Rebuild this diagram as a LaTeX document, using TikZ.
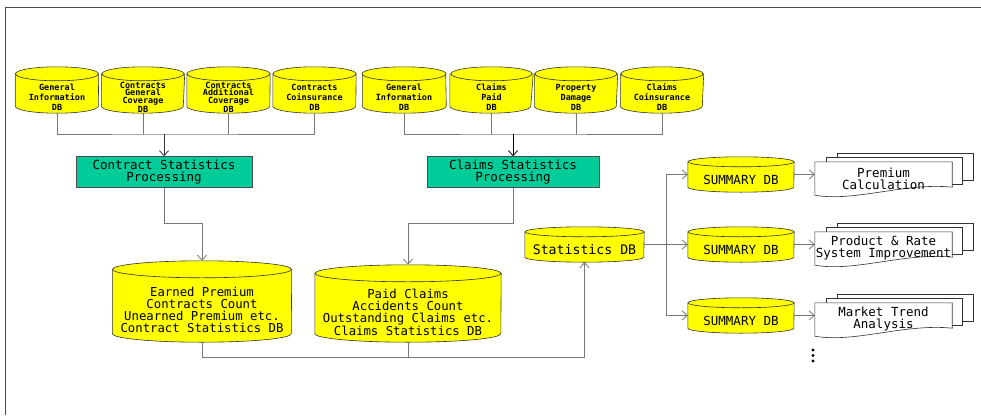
\documentclass[tikz,border=0pt]{standalone}
\usepackage{fontspec}
\usetikzlibrary{arrows.meta}
\newfontfamily\monofont{DejaVu Sans Mono}
\definecolor{dbyellow}{RGB}{255,255,0}
\definecolor{procgreen}{RGB}{0,204,153}
\definecolor{linegray}{RGB}{120,120,120}
\tikzset{
    db/.style={rectangle, inner sep=0pt, align=center},
    srcdb/.style={db, minimum width=83pt, minimum height=32pt,
    	font=\monofont\bfseries\fontsize{8.5}{10}\selectfont},
    bigdb/.style={db, font=\monofont\fontsize{12.3}{12}\selectfont},
    smalldb/.style={db, minimum height=25pt, font=\monofont\fontsize{12.5}{12}\selectfont},
    cyl/.style={draw=black!80, fill=dbyellow, line width=0.6pt}
}
\tikzset{
    proc/.style={rectangle, draw=black!70, fill=procgreen, line width=0.6pt,
    	minimum height=30pt, align=center, font=\monofont\fontsize{12.5}{12}\selectfont},
    doc/.style={rectangle, minimum width=137pt, minimum height=33pt, inner sep=0pt,
    	align=center, font=\monofont\fontsize{12.5}{12}\selectfont},
    page/.style={draw=black!80, fill=white, line width=0.6pt}
}
\tikzset{
    conn/.style={draw=linegray, line width=0.8pt},
    arr/.style={conn, -{Straight Barb[length=5pt,width=9pt]}}
}
\pgfdeclarelayer{background}
\pgfsetlayers{background,main}
\begin{document}
\begin{tikzpicture}[x=1pt, y=-1pt]
	\useasboundingbox (0,0) rectangle (981,415);
	\draw[black!70, line width=0.8pt] (5,415) -- (5,7) -- (981,7);

	% source databases (node = cylinder body below the top ellipse)
	\node (c1) [srcdb] at (57, 97) {General\\Information\\DB};
	\node (c2) [srcdb, font=\monofont\bfseries\fontsize{8.5}{7.4}\selectfont] at (143, 97) {Contracts\\General\\Coverage\\DB};
	\node (c3) [srcdb, font=\monofont\bfseries\fontsize{8.5}{7.4}\selectfont] at (228.5, 97) {Contracts\\Additional\\Coverage\\DB};
	\node (c4) [srcdb] at (314.5, 97) {Contracts\\Coinsurance\\DB};
	\node (c5) [srcdb] at (404, 97) {General\\Information\\DB};
	\node (c6) [srcdb] at (491.5, 97) {Claims\\Paid\\DB};
	\node (c7) [srcdb] at (576, 97) {Property\\Damage\\DB};
	\node (c8) [srcdb] at (662, 97) {Claims\\Coinsurance\\DB};

	\node (cp) [proc, minimum width=176pt] at (164, 172) {Contract Statistics\\Processing};
	\node (cl) [proc, minimum width=172pt] at (513, 172) {Claims Statistics\\Processing};

	\node (earned) [bigdb, minimum width=179pt, minimum height=64pt] at (202, 310) {Earned Premium\\Contracts Count\\Unearned Premium etc.\\Contract Statistics DB};
	\node (paid) [bigdb, minimum width=186pt, minimum height=60pt] at (408, 312) {Paid Claims\\Accidents Count\\Outstanding Claims etc.\\Claims Statistics DB};

	\node (stat) [smalldb, minimum width=119pt, font=\monofont\fontsize{13.2}{12}\selectfont] at (584.5, 249.5) {Statistics DB};
	\node (s1) [smalldb, minimum width=106pt] at (741, 179.5) {SUMMARY DB};
	\node (s2) [smalldb, minimum width=106pt] at (741, 249.5) {SUMMARY DB};
	\node (s3) [smalldb, minimum width=106pt] at (741, 320.5) {SUMMARY DB};

	\node (d1) [doc] at (883.5, 178.5) {Premium\\Calculation};
	\node (d2) [doc] at (883.5, 248.5) {Product \& Rate\\System Improvement};
	\node (d3) [doc] at (883.5, 319.5) {Market Trend\\Analysis};
	\foreach \k in {0,1,2} \fill (813, 350+5.5*\k) circle[radius=1.7pt];

	\begin{pgfonlayer}{background}
	\foreach \n/\w/\r in {c1/41.5/7, c2/41/7, c3/41.5/7, c4/41.5/7, c5/42/7, c6/40.5/7,
		c7/41/7, c8/41/7, earned/89.5/8.5, paid/93/8.5, stat/59.5/5, s1/53/5, s2/53/5, s3/53/5} {
		\draw[cyl] ([shift={(0,-\r)}]\n.north west) -- ([shift={(0,-\r)}]\n.south west)
			arc[start angle=180, end angle=360, x radius=\w pt, y radius=\r pt]
			-- ([shift={(0,-\r)}]\n.north east) -- cycle;
		\draw[cyl] ([shift={(0,-\r)}]\n.north) ellipse[x radius=\w pt, y radius=\r pt];
	}
	\foreach \d in {d1,d2,d3} {
		\draw[page] ([shift={(22,-9)}]\d.north west) rectangle ([shift={(21,-15)}]\d.south east);
		\draw[page] ([shift={(11,-5)}]\d.north west) rectangle ([shift={(10,-11)}]\d.south east);
		\draw[page] (\d.north west) -- (\d.north east) -- ([shift={(0,-8)}]\d.south east)
			.. controls ([shift={(-47,-13)}]\d.south east) and ([shift={(40,7)}]\d.south west)
			.. (\d.south west) -- cycle;
	}
	\end{pgfonlayer}

	\coordinate (jc) at (164, 134);
	\coordinate (jl) at (513, 134);
	\coordinate (kc) at (164, 223);
	\coordinate (kl) at (513, 223);
	\coordinate (kb) at (584.5, 357);
	\coordinate (ks) at (666, 244.5);

	\draw[conn] (c1.south) |- (jc) -| (c4.south);
	\draw[conn] (c2.south) -- (c2.south |- jc); \draw[conn] (c3.south) -- (c3.south |- jc);
	\draw[arr, draw=black!80] (jc) -- (cp);
	\draw[conn] (c5.south) |- (jl) -| (c8.south);
	\draw[conn] (c6.south) -- (c6.south |- jl); \draw[conn] (c7.south) -- (c7.south |- jl);
	\draw[arr, draw=black] (jc -| jl) -- (cl);

	\draw[arr] (cp) -- (kc) -| ([yshift=17pt]earned.north);
	\draw[arr] (cl) -- (kl) -| ([yshift=17pt]paid.north);
	\draw[arr] (earned.south) |- (kb) -- (stat.south);
	\draw[conn] (paid.south) -- (paid.south |- kb);

	\draw[conn] ([yshift=5pt]stat.east) -- (ks);
	\draw[arr] (ks) |- ([yshift=5pt]s1.west); \draw[arr] (ks) -- ([yshift=5pt]s2.west);
	\draw[arr] (ks) |- ([yshift=5pt]s3.west);
	\draw[arr] ([yshift=5pt]s1.east) -- ([yshift=5pt]s1.east -| d1.west);
	\draw[arr] ([yshift=5pt]s2.east) -- ([yshift=5pt]s2.east -| d2.west);
	\draw[arr] ([yshift=5pt]s3.east) -- ([yshift=5pt]s3.east -| d3.west);
\end{tikzpicture}
\end{document}
